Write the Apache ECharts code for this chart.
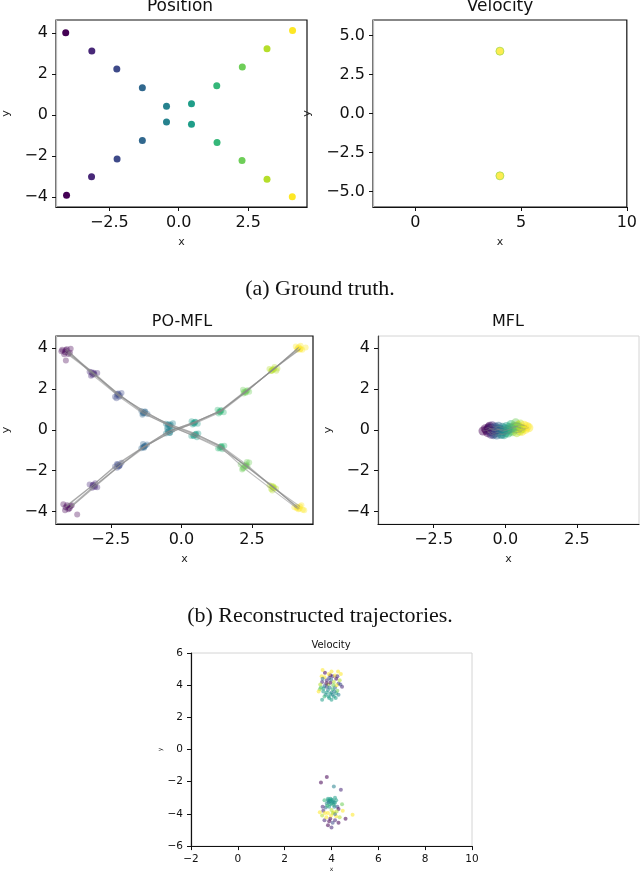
<!DOCTYPE html>
<html>
<head>
<meta charset="utf-8">
<script src="https://cdn.jsdelivr.net/npm/echarts@6/dist/echarts.min.js"></script>
<style>
  html, body { margin: 0; padding: 0; background: #fff; }
  #chart { width: 640px; height: 873px; }
</style>
</head>
<body>
<div id="chart"></div>
<script>
// viridis colours, one per time step
const viridis = ['#440154', '#482878', '#3e4a89', '#31688e', '#26828e', '#1f9e89', '#35b779', '#6ece58', '#b5de2b', '#fde725']

// (a) ground truth positions, one point per time step
const gtAgentA = [[-4.07, 4.02], [-3.13, 3.12], [-2.23, 2.24], [-1.31, 1.33], [-0.44, 0.42], [0.46, -0.46], [1.38, -1.35], [2.28, -2.23], [3.18, -3.14], [4.09, -4.00]]
const gtAgentB = [[-4.04, -3.93], [-3.14, -3.02], [-2.22, -2.15], [-1.31, -1.25], [-0.44, -0.34], [0.46, 0.55], [1.37, 1.43], [2.29, 2.34], [3.18, 3.24], [4.10, 4.13]]
const gtVelocity = [[4, 4], [4, -4]]

// (b) PO-MFL particle trajectories, branch A goes down, branch B goes up
const poBranchA = [
    [[-4.10, 3.90], [-3.18, 2.82], [-2.25, 1.75], [-1.30, 0.88], [-0.45, 0.27], [0.50, -0.22], [1.42, -0.80], [2.30, -1.70], [3.20, -2.76], [4.10, -3.78]],
    [[-3.95, 3.78], [-3.08, 2.73], [-2.20, 1.62], [-1.36, 0.80], [-0.40, 0.20], [0.44, -0.30], [1.36, -0.90], [2.34, -1.80], [3.28, -2.86], [4.18, -3.86]],
    [[-4.06, 3.95], [-3.15, 2.70], [-2.28, 1.72], [-1.28, 0.90], [-0.48, 0.25], [0.48, -0.24], [1.44, -0.86], [2.26, -1.76], [3.24, -2.82], [4.20, -3.76]],
    [[-4.00, 3.72], [-3.10, 2.80], [-2.18, 1.68], [-1.35, 0.84], [-0.42, 0.18], [0.42, -0.28], [1.38, -0.84], [2.20, -1.86], [3.18, -2.90], [4.08, -3.84]],
    [[-4.12, 3.80], [-3.12, 2.76], [-2.24, 1.78], [-1.32, 0.82], [-0.38, 0.26], [0.52, -0.20], [1.40, -0.82], [2.28, -1.78], [3.26, -2.78], [4.14, -3.90]]
]
const poBranchB = [
    [[-4.05, -3.70], [-3.14, -2.72], [-2.25, -1.70], [-1.30, -0.80], [-0.45, -0.06], [0.48, 0.38], [1.40, 0.95], [2.30, 1.90], [3.25, 2.95], [4.12, 4.00]],
    [[-3.96, -3.85], [-3.06, -2.80], [-2.20, -1.78], [-1.36, -0.86], [-0.40, -0.14], [0.44, 0.32], [1.36, 0.88], [2.26, 1.84], [3.20, 2.90], [4.20, 3.94]],
    [[-4.10, -3.80], [-3.12, -2.70], [-2.28, -1.68], [-1.28, -0.78], [-0.48, -0.10], [0.50, 0.40], [1.42, 0.96], [2.34, 1.94], [3.28, 2.98], [4.16, 4.05]],
    [[-4.00, -3.90], [-3.08, -2.76], [-2.18, -1.74], [-1.34, -0.84], [-0.42, -0.16], [0.42, 0.34], [1.34, 0.90], [2.22, 1.86], [3.18, 2.88], [4.10, 3.92]],
    [[-3.92, -3.74], [-3.16, -2.84], [-2.22, -1.80], [-1.32, -0.88], [-0.38, -0.04], [0.46, 0.30], [1.38, 0.86], [2.28, 1.82], [3.22, 2.96], [4.22, 3.98]]
]
// extra PO-MFL particles without drawn paths [x, y, step]
const poCloud = [
    [-4.22, 3.92, 0], [-3.92, 3.98, 0], [-4.15, 3.70, 0], [-4.09, 3.40, 0], [-4.25, 3.85, 0],
    [-3.25, 2.85, 1], [-2.98, 2.78, 1], [-3.20, 2.65, 1],
    [-2.35, 1.62, 2], [-2.12, 1.80, 2], [-2.30, 1.55, 2],
    [-1.42, 0.92, 3], [-1.20, 0.78, 3], [-1.38, 0.74, 3],
    [-0.55, 0.30, 4], [-0.30, 0.32, 4], [-0.50, 0.12, 4],
    [0.35, -0.30, 5], [0.60, -0.18, 5], [0.55, -0.36, 5],
    [1.30, -0.92, 6], [1.52, -0.78, 6], [1.45, -0.96, 6],
    [2.10, -1.70, 7], [2.32, -1.58, 7], [2.18, -1.90, 7], [2.15, -1.95, 7], [2.40, -1.60, 7],
    [3.12, -2.72, 8], [3.35, -2.88, 8], [3.22, -2.98, 8],
    [4.25, -3.70, 9], [4.30, -3.92, 9], [4.00, -3.80, 9], [4.35, -3.95, 9],
    [-4.18, -3.65, 0], [-3.88, -3.70, 0], [-4.12, -3.95, 0], [-3.69, -4.16, 0],
    [-3.25, -2.68, 1], [-2.98, -2.82, 1], [-3.05, -2.62, 1],
    [-2.35, -1.80, 2], [-2.12, -1.62, 2], [-2.28, -1.86, 2],
    [-1.42, -0.90, 3], [-1.22, -0.72, 3], [-1.36, -0.70, 3],
    [-0.55, -0.18, 4], [-0.32, 0.00, 4], [-0.50, 0.02, 4],
    [0.36, 0.42, 5], [0.58, 0.30, 5], [0.40, 0.26, 5],
    [1.28, 0.98, 6], [1.50, 0.86, 6], [1.32, 0.80, 6],
    [2.18, 1.96, 7], [2.40, 1.86, 7], [2.20, 1.78, 7],
    [3.12, 2.98, 8], [3.36, 2.90, 8], [3.30, 3.08, 8], [3.40, 3.00, 8],
    [4.05, 4.08, 9], [4.28, 3.92, 9], [4.22, 4.12, 9], [4.40, 4.03, 9]
]

// (b) MFL particle trajectories
const mflParticles = [
    [[-0.70, 0.05], [-0.58, 0.12], [-0.48, 0.02], [-0.33, 0.10], [-0.18, -0.02], [-0.02, 0.05], [0.14, 0.12], [0.30, 0.18], [0.46, 0.14], [0.62, 0.08]],
    [[-0.62, -0.14], [-0.52, -0.10], [-0.40, -0.18], [-0.28, -0.12], [-0.12, -0.22], [0.02, -0.14], [0.18, -0.06], [0.34, 0.02], [0.50, -0.06], [0.70, 0.02]],
    [[-0.55, 0.18], [-0.46, 0.20], [-0.36, 0.14], [-0.24, 0.18], [-0.10, 0.12], [0.04, 0.16], [0.20, 0.26], [0.36, 0.34], [0.52, 0.28], [0.76, 0.16]],
    [[-0.66, -0.02], [-0.50, -0.22], [-0.42, -0.24], [-0.30, -0.26], [-0.16, -0.22], [-0.04, -0.24], [0.10, -0.16], [0.26, -0.10], [0.40, -0.14], [0.58, -0.08]],
    [[-0.78, -0.06], [-0.60, 0.00], [-0.50, 0.08], [-0.36, -0.04], [-0.20, 0.04], [-0.06, -0.04], [0.12, 0.02], [0.28, 0.10], [0.44, 0.22], [0.66, 0.22]],
    [[-0.58, 0.08], [-0.44, -0.04], [-0.32, 0.00], [-0.22, 0.02], [-0.08, -0.08], [0.08, 0.00], [0.22, 0.08], [0.40, 0.16], [0.56, 0.04], [0.82, 0.10]]
]

// (c) estimated velocities [vx, vy, step]
const velUpper = [[3.72, 4.78, 0], [3.95, 4.62, 0], [4.20, 4.40, 0], [3.80, 4.30, 1], [4.05, 4.55, 1], [3.60, 4.20, 1], [4.30, 4.10, 2], [3.90, 4.45, 2],
    [3.70, 3.95, 3], [4.15, 3.85, 3], [3.85, 3.70, 4], [4.00, 3.55, 4], [3.75, 3.40, 4], [4.10, 3.30, 5], [3.90, 3.20, 5], [4.20, 3.50, 5],
    [3.65, 3.60, 5], [4.05, 3.75, 6], [3.55, 3.85, 6], [4.25, 3.65, 7], [3.50, 3.75, 7], [3.85, 4.05, 8], [4.10, 4.20, 8], [4.35, 4.30, 8],
    [3.58, 4.55, 9], [4.00, 4.85, 9], [4.40, 4.70, 9], [3.45, 3.60, 9], [4.22, 4.00, 9], [3.95, 4.15, 0], [3.70, 4.50, 9], [4.45, 3.90, 1],
    [3.60, 3.10, 5], [3.80, 3.90, 2], [4.15, 4.60, 9], [3.95, 3.45, 5], [4.05, 3.40, 4], [3.80, 3.55, 5],
    [3.62, 4.40, 3], [3.88, 4.70, 9], [4.28, 4.85, 9], [3.52, 4.05, 8], [4.38, 4.05, 2], [4.12, 3.62, 4], [3.88, 3.30, 5], [4.00, 3.10, 5],
    [3.70, 3.30, 6], [4.30, 3.40, 4], [3.92, 3.85, 4], [4.18, 3.20, 5], [3.98, 4.35, 3], [3.78, 4.12, 0], [4.08, 4.00, 7], [3.66, 3.80, 5],
    [4.25, 4.55, 1], [3.62, 4.95, 9]]
const velLower = [[3.80, -1.70, 0], [3.55, -2.05, 0], [4.10, -2.30, 4], [4.40, -2.50, 1], [3.85, -3.05, 5], [4.00, -3.10, 5], [4.15, -3.00, 5],
    [3.90, -3.20, 4], [4.05, -3.25, 4], [4.20, -3.15, 5], [3.80, -3.35, 4], [3.95, -3.40, 5], [4.10, -3.45, 6], [3.75, -3.60, 3], [4.25, -3.55, 2],
    [3.65, -3.80, 1], [4.00, -3.75, 8], [4.30, -3.70, 0], [3.85, -3.95, 9], [4.10, -3.90, 9], [3.60, -4.10, 8], [4.20, -4.15, 9], [3.95, -4.30, 0],
    [3.70, -4.40, 1], [4.35, -4.20, 8], [4.05, -4.55, 2], [3.85, -4.70, 0], [4.00, -4.85, 1], [4.60, -4.30, 0], [4.90, -4.05, 9], [3.50, -3.90, 9],
    [4.45, -3.40, 7], [3.70, -3.15, 6], [4.15, -4.00, 3], [3.90, -3.55, 5], [3.95, -3.20, 5], [4.10, -3.30, 4],
    [3.85, -3.15, 5], [3.95, -3.05, 5], [4.05, -3.15, 5], [4.15, -3.30, 5], [3.88, -3.28, 4], [4.00, -3.35, 5], [4.12, -3.55, 4], [3.82, -3.50, 6],
    [3.72, -3.95, 9], [3.98, -4.10, 9], [4.22, -3.85, 8], [3.90, -4.45, 0], [4.15, -4.40, 1], [3.78, -4.20, 9], [4.05, -3.95, 8], [4.30, -4.55, 0],
    [3.62, -3.55, 1], [4.48, -3.80, 9]]

// tick values
const posTicksX = [-2.5, 0, 2.5]
const posTicksY = [-4, -2, 0, 2, 4]
const velTicksX = [0, 5, 10]
const velTicksY = [-5, -2.5, 0, 2.5, 5]
const bigTicksX = [-2, 0, 2, 4, 6, 8, 10]
const bigTicksY = [-6, -4, -2, 0, 2, 4, 6]

const FONT = 'DejaVu Sans'
const DARK = '#111'
const LIGHT = '#d4d4d4'
const minus = s => String(s).replace('-', '\u2212')
const fix1 = v => minus(v.toFixed(1))
const int0 = v => minus(Math.round(v))

function valueAxis(grid, min, max, ticks, fmt, size, name, gap, nameSize, lineColor) {
    return {
        type: 'value', gridIndex: grid, min: min, max: max,
        name: name, nameLocation: 'middle', nameGap: gap,
        nameTextStyle: { fontFamily: FONT, fontSize: nameSize, color: '#222' },
        splitLine: { show: false },
        axisLine: { show: true, onZero: false, lineStyle: { color: lineColor, width: 1.2 } },
        axisTick: { show: true, customValues: ticks, length: 4, lineStyle: { color: DARK } },
        axisLabel: { customValues: ticks, formatter: fmt, fontFamily: FONT, fontSize: size, color: DARK, margin: 8 }
    }
}

const withStep = traj => traj.map((p, t) => [p[0], p[1], t])
const stepColor = p => viridis[p.value[2]]

const series = []
function scatter(xi, yi, data, size, opacity) {
    series.push({
        type: 'scatter', xAxisIndex: xi, yAxisIndex: yi, data: data, symbolSize: size, z: 2,
        itemStyle: { color: stepColor, opacity: opacity }
    })
}
function path(xi, yi, data, opacity) {
    series.push({
        type: 'line', xAxisIndex: xi, yAxisIndex: yi, data: data, showSymbol: false, z: 3,
        lineStyle: { color: '#8a8a8a', width: 1.1, opacity: opacity }
    })
}

// (a) position
scatter(0, 0, withStep(gtAgentA).concat(withStep(gtAgentB)), 7, 1)
// (a) velocity
series.push({
    type: 'scatter', xAxisIndex: 1, yAxisIndex: 1, data: gtVelocity, symbolSize: 8,
    itemStyle: { color: viridis[9], borderColor: '#a6d94e', borderWidth: 1 }
})
// (b) PO-MFL
scatter(2, 2, poCloud, 6, 0.35)
poBranchA.concat(poBranchB).forEach(tr => scatter(2, 2, withStep(tr), 6, 0.4))
poBranchA.concat(poBranchB).forEach(tr => path(2, 2, tr, 0.55))
// (b) MFL
mflParticles.forEach(tr => scatter(3, 3, withStep(tr), 9, 0.45))
mflParticles.forEach(tr => path(3, 3, tr, 0.35))
// (c) velocity estimates
scatter(4, 4, velUpper.concat(velLower), 4, 0.55)

const posX = [-4.42, 4.62], posY = [-4.5, 4.64]
const recX = [-4.44, 4.66], recY = [-4.62, 4.6]

const option = {
    backgroundColor: '#fff',
    animation: false,
    grid: [
        { left: 52, top: 20, width: 255, height: 187, show: true, borderColor: DARK, borderWidth: 1.2 },
        { left: 373, top: 20, width: 254, height: 187, show: true, borderColor: DARK, borderWidth: 1.2 },
        { left: 52, top: 336, width: 261, height: 188, show: true, borderColor: DARK, borderWidth: 1.2 },
        { left: 378, top: 336, width: 261, height: 188, show: true, borderColor: LIGHT, borderWidth: 1 },
        { left: 191, top: 653, width: 281, height: 197, show: true, borderColor: LIGHT, borderWidth: 1 }
    ],
    xAxis: [
        valueAxis(0, posX[0], posX[1], posTicksX, fix1, 16, 'x', 30, 11, DARK),
        valueAxis(1, -2, 10, velTicksX, int0, 16, 'x', 30, 11, DARK),
        valueAxis(2, recX[0], recX[1], posTicksX, fix1, 16, 'x', 30, 11, DARK),
        valueAxis(3, recX[0], recX[1], posTicksX, fix1, 16, 'x', 30, 11, DARK),
        valueAxis(4, -2, 10, bigTicksX, int0, 10.5, 'x', 18, 6, DARK)
    ],
    yAxis: [
        valueAxis(0, posY[0], posY[1], posTicksY, int0, 16, 'y', 44, 11, '#bbb'),
        valueAxis(1, -6, 6, velTicksY, fix1, 16, 'y', 60, 11, '#bbb'),
        valueAxis(2, recY[0], recY[1], posTicksY, int0, 16, 'y', 44, 11, '#bbb'),
        valueAxis(3, recY[0], recY[1], posTicksY, int0, 16, 'y', 44, 11, '#444'),
        valueAxis(4, -6, 6, bigTicksY, int0, 10.5, 'y', 26, 6, DARK)
    ],
    graphic: [
        { type: 'text', x: 180, y: 7, style: { text: 'Position', font: '17px "DejaVu Sans"', textAlign: 'center', textVerticalAlign: 'middle', fill: DARK } },
        { type: 'text', x: 500, y: 7, style: { text: 'Velocity', font: '17px "DejaVu Sans"', textAlign: 'center', textVerticalAlign: 'middle', fill: DARK } },
        { type: 'text', x: 320, y: 289, style: { text: '(a) Ground truth.', font: '22px "Liberation Serif"', textAlign: 'center', textVerticalAlign: 'middle', fill: DARK } },
        { type: 'text', x: 182, y: 322, style: { text: 'PO-MFL', font: '16px "DejaVu Sans"', textAlign: 'center', textVerticalAlign: 'middle', fill: DARK } },
        { type: 'text', x: 508, y: 322, style: { text: 'MFL', font: '16px "DejaVu Sans"', textAlign: 'center', textVerticalAlign: 'middle', fill: DARK } },
        { type: 'text', x: 320, y: 616, style: { text: '(b) Reconstructed trajectories.', font: '22px "Liberation Serif"', textAlign: 'center', textVerticalAlign: 'middle', fill: DARK } },
        { type: 'text', x: 331, y: 645, style: { text: 'Velocity', font: '10px "DejaVu Sans"', textAlign: 'center', textVerticalAlign: 'middle', fill: DARK } }
    ],
    series: series
}

const myChart = echarts.init(document.getElementById('chart'))
myChart.setOption(option)
</script>
</body>
</html>
